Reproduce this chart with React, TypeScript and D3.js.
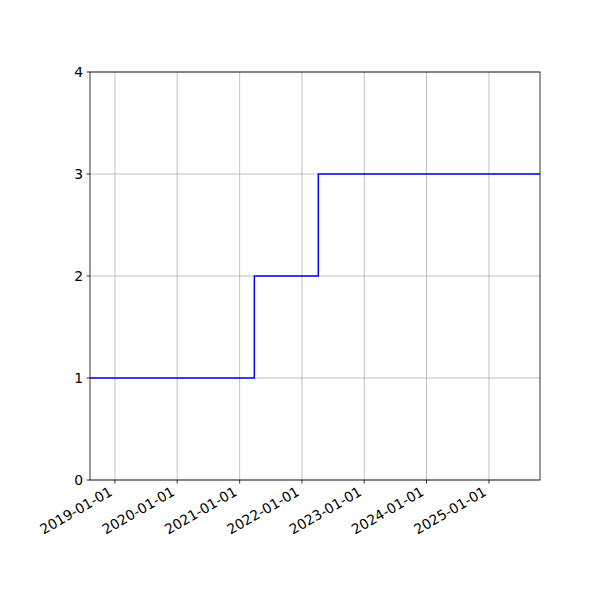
import React, { useEffect, useRef } from 'react';
import * as d3 from 'd3';

const stepDates = ['2018-08-08', '2021-03-28', '2022-04-07', '2025-10-27'];
const stepValues = [1, 2, 3, 3];
const xTickLabels = ['2019-01-01', '2020-01-01', '2021-01-01', '2022-01-01', '2023-01-01', '2024-01-01', '2025-01-01'];
const yTicks = [0, 1, 2, 3, 4];
const xRange = ['2018-08-08', '2025-10-27'];

const StepChart = () => {
  const svgRef = useRef<SVGSVGElement | null>(null);

  useEffect(() => {
    const svg = d3.select(svgRef.current)
      .attr('width', 600)
      .attr('height', 600);
    svg.selectAll('*').remove();

    const margin = { top: 72, right: 60, bottom: 120, left: 90 };
    const width = 600 - margin.left - margin.right;
    const height = 600 - margin.top - margin.bottom;
    const font = 'DejaVu Sans, sans-serif';

    const g = svg.append('g').attr('transform', `translate(${margin.left},${margin.top})`);

    const parse = d3.utcParse('%Y-%m-%d');
    const x = d3.scaleUtc()
      .domain(xRange.map(d => parse(d) as Date))
      .range([0, width]);
    const y = d3.scaleLinear().domain([0, 4]).range([height, 0]);

    const data = stepDates.map((d, i) => ({ date: parse(d) as Date, value: stepValues[i] }));
    const xTicks = xTickLabels.map(d => parse(d) as Date);

    // grid
    g.selectAll('.vgrid').data(xTicks).enter().append('line')
      .attr('x1', d => x(d)).attr('x2', d => x(d))
      .attr('y1', 0).attr('y2', height)
      .attr('stroke', '#b0b0b0').attr('stroke-width', 0.8);
    g.selectAll('.hgrid').data(yTicks).enter().append('line')
      .attr('x1', 0).attr('x2', width)
      .attr('y1', d => y(d)).attr('y2', d => y(d))
      .attr('stroke', '#b0b0b0').attr('stroke-width', 0.8);

    const line = d3.line<{ date: Date, value: number }>()
      .x(d => x(d.date))
      .y(d => y(d.value))
      .curve(d3.curveStepAfter);

    g.append('path')
      .datum(data)
      .attr('fill', 'none')
      .attr('stroke', 'blue')
      .attr('stroke-width', 1.5)
      .attr('d', line);

    // frame
    g.append('rect')
      .attr('width', width).attr('height', height)
      .attr('fill', 'none').attr('stroke', 'black').attr('stroke-width', 0.8);

    // x ticks
    xTicks.forEach((d, i) => {
      const px = x(d);
      g.append('line')
        .attr('x1', px).attr('x2', px)
        .attr('y1', height).attr('y2', height + 3.5)
        .attr('stroke', 'black').attr('stroke-width', 0.8);
      g.append('text')
        .attr('transform', `translate(${px - 1.5},${height + 14.5}) rotate(-30)`)
        .attr('text-anchor', 'end')
        .attr('font-family', font)
        .attr('font-size', 13.9)
        .attr('fill', 'black')
        .text(xTickLabels[i]);
    });

    // y ticks
    yTicks.forEach(v => {
      const py = y(v);
      g.append('line')
        .attr('x1', -3.5).attr('x2', 0)
        .attr('y1', py).attr('y2', py)
        .attr('stroke', 'black').attr('stroke-width', 0.8);
      g.append('text')
        .attr('x', -7).attr('y', py)
        .attr('dy', '0.35em')
        .attr('text-anchor', 'end')
        .attr('font-family', font)
        .attr('font-size', 13.9)
        .attr('fill', 'black')
        .text(String(v));
    });
  }, []);

  return <svg ref={svgRef} style={{ display: 'block', position: 'absolute', left: 0, top: 0 }}></svg>;
};

export default function App() {
  return <StepChart />;
}
